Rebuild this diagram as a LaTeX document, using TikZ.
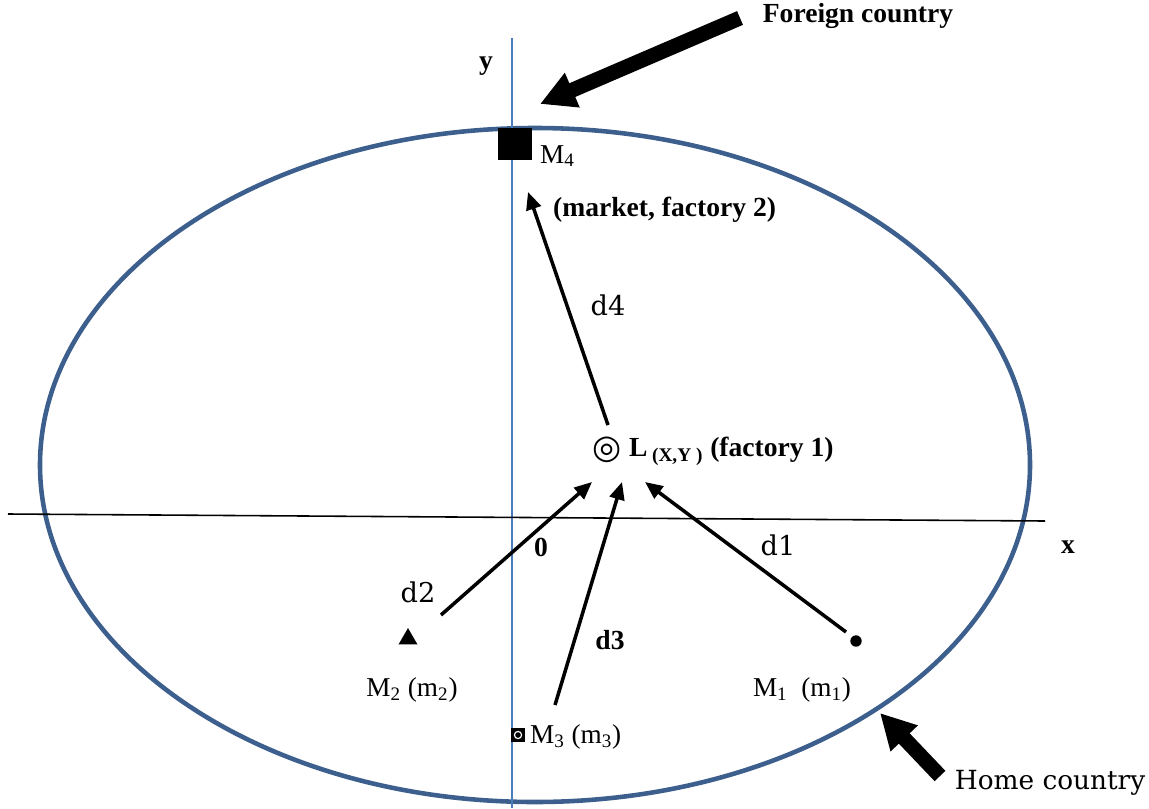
\documentclass[tikz,border=0pt]{standalone}
\usepackage{fontspec}
\setmainfont{Liberation Serif}
\newfontfamily\centfont{DejaVu Serif}
\newfontfamily\symfont{DejaVu Sans}
\usetikzlibrary{arrows.meta,positioning,shapes.geometric}
\definecolor{rimblue}{HTML}{3C5F8D}
\definecolor{axisblue}{HTML}{4A7EBB}
\tikzset{
  lbl/.style={font=\fontsize{15.5}{18}\selectfont, inner sep=1pt},
  blbl/.style={font=\fontsize{15.7}{18}\selectfont\bfseries, inner sep=1pt},
  dlbl/.style={font=\fontsize{15.5}{18}\selectfont\centfont, inner sep=1pt},
  arr/.style={-{Triangle[length=10pt, width=8.5pt]}, line width=2pt},
  bigarr/.style={-{Triangle[length=20pt, width=20pt]}, line width=8.5pt},
  axisln/.style={line width=0.9pt},
}
\begin{document}
\begin{tikzpicture}[x=0.02cm, y=-0.02cm]
\useasboundingbox (0,0) rectangle (1149,808);
% countries and axes
\draw[rimblue, line width=2.6pt] (535,465) ellipse [x radius=495, y radius=337];
\draw[axisln, axisblue] (512,38) -- (512,808);
\draw[axisln] (8,514) -- (1045,521);
\node[blbl] (ylbl) at (486,66) {y};
\node[blbl] (xlbl) at (1068,547) {x};
\node[blbl] (orig) at (541,547) {0};
% markets
\node[fill, minimum width=19.3pt, minimum height=18pt, inner sep=0] (M4) at (515,144) {};
\node[lbl, anchor=west] (M4lbl) at (538,156) {M\textsubscript{4}};
\node[blbl, anchor=west] (M4note) at (551,210) {(market, factory 2)};
\node[regular polygon, regular polygon sides=3, fill, minimum size=12.5pt, inner sep=0] (M2) at (408,639) {};
\node[lbl] (M2lbl) at (412,690) {M\textsubscript{2} (m\textsubscript{2})};
\node[circle, fill, minimum size=6.5pt, inner sep=0] (M1) at (856,641) {};
\node[lbl] (M1lbl) at (802,690) {M\textsubscript{1}\ \ (m\textsubscript{1})};
\node[fill, minimum size=8pt, inner sep=0] (M3) at (518,735) {};
\fill[white] (M3.center) circle (2.4pt);
\fill[black] (M3.center) circle (1.6pt);
\node[lbl, anchor=west] (M3lbl) at (528,737) {M\textsubscript{3} (m\textsubscript{3})};
% factory 1
\node[font=\fontsize{19}{20}\symfont, inner sep=0] (L) at (607,450) {◎};
\node[blbl, anchor=west] (Llbl) at (627,451) {L\,\textsubscript{(X,Y )} (factory 1)};
% distances
\coordinate (d4s) at (608,425);
\coordinate (d4e) at (528,192);
\coordinate (d2s) at (441,615);
\coordinate (d2e) at (592,482);
\coordinate (d3s) at (555,705);
\coordinate (d3e) at (622,482);
\coordinate (d1s) at (846,632);
\coordinate (d1e) at (645,482);
\draw[arr] (d4s) -- (d4e);
\draw[arr] (d2s) -- (d2e);
\draw[arr] (d3s) -- (d3e);
\draw[arr] (d1s) -- (d1e);
\node[dlbl] (d4lbl) at (608,305) {d4};
\node[dlbl] (d2lbl) at (418,592) {d2};
\node[blbl] (d3lbl) at (610,640) {d3};
\node[dlbl] (d1lbl) at (778,545) {d1};
% country labels
\node[blbl] (foreign) at (858,16) {Foreign country};
\coordinate (fs) at (740,18);
\coordinate (fe) at (540,104);
\draw[bigarr] (fs) -- (fe);
\node[dlbl, font=\fontsize{15}{18}\selectfont\centfont] (home) at (1050,783) {Home country};
\coordinate (hs) at (940,776);
\coordinate (he) at (880,713);
\draw[bigarr] (hs) -- (he);
\end{tikzpicture}
\end{document}
